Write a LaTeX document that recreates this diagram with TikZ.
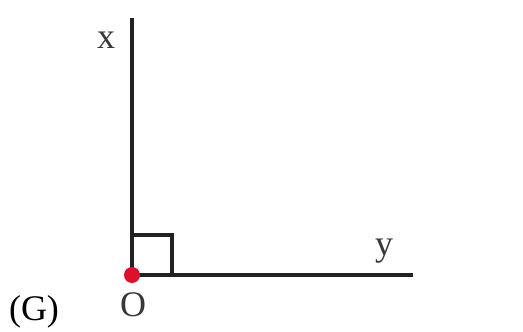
\documentclass[tikz,border=0pt]{standalone}
\usepackage{fontspec}
\setmainfont{Liberation Serif}
\usepackage{tikz}
\usetikzlibrary{positioning, calc}
\definecolor{ink}{HTML}{222222}
\definecolor{dotred}{HTML}{E0102A}
\definecolor{lbl}{HTML}{383838}

\begin{document}
\begin{tikzpicture}[
  x=0.5pt, y=-0.5pt,
  ray/.style={draw=ink, line width=1.6pt},
  rightmark/.style={draw=ink, line width=1.6pt},
  ptlabel/.style={font=\fontsize{18}{18}\selectfont, text=lbl, inner sep=0pt}
]
\useasboundingbox (0,0) rectangle (523,331);
% the angle
\coordinate (O) at (132,275);
\coordinate (X) at (132,18);
\coordinate (Y) at (413,275);
\draw[ray] (X) -- (O) -- (Y);
% right-angle mark
\draw[rightmark] ($(O)+(0,-40)$) -| ($(O)+(40,0)$);
\fill[dotred] (O) circle (8);
% labels
\node[ptlabel] (xl) at (106,40) {x};
\node[ptlabel] (yl) at (384,251) {y};
\node[ptlabel] (ol) at (133,305) {O};
\node[ptlabel, text=black] (gl) at (34,312) {(G)};
\end{tikzpicture}
\end{document}
